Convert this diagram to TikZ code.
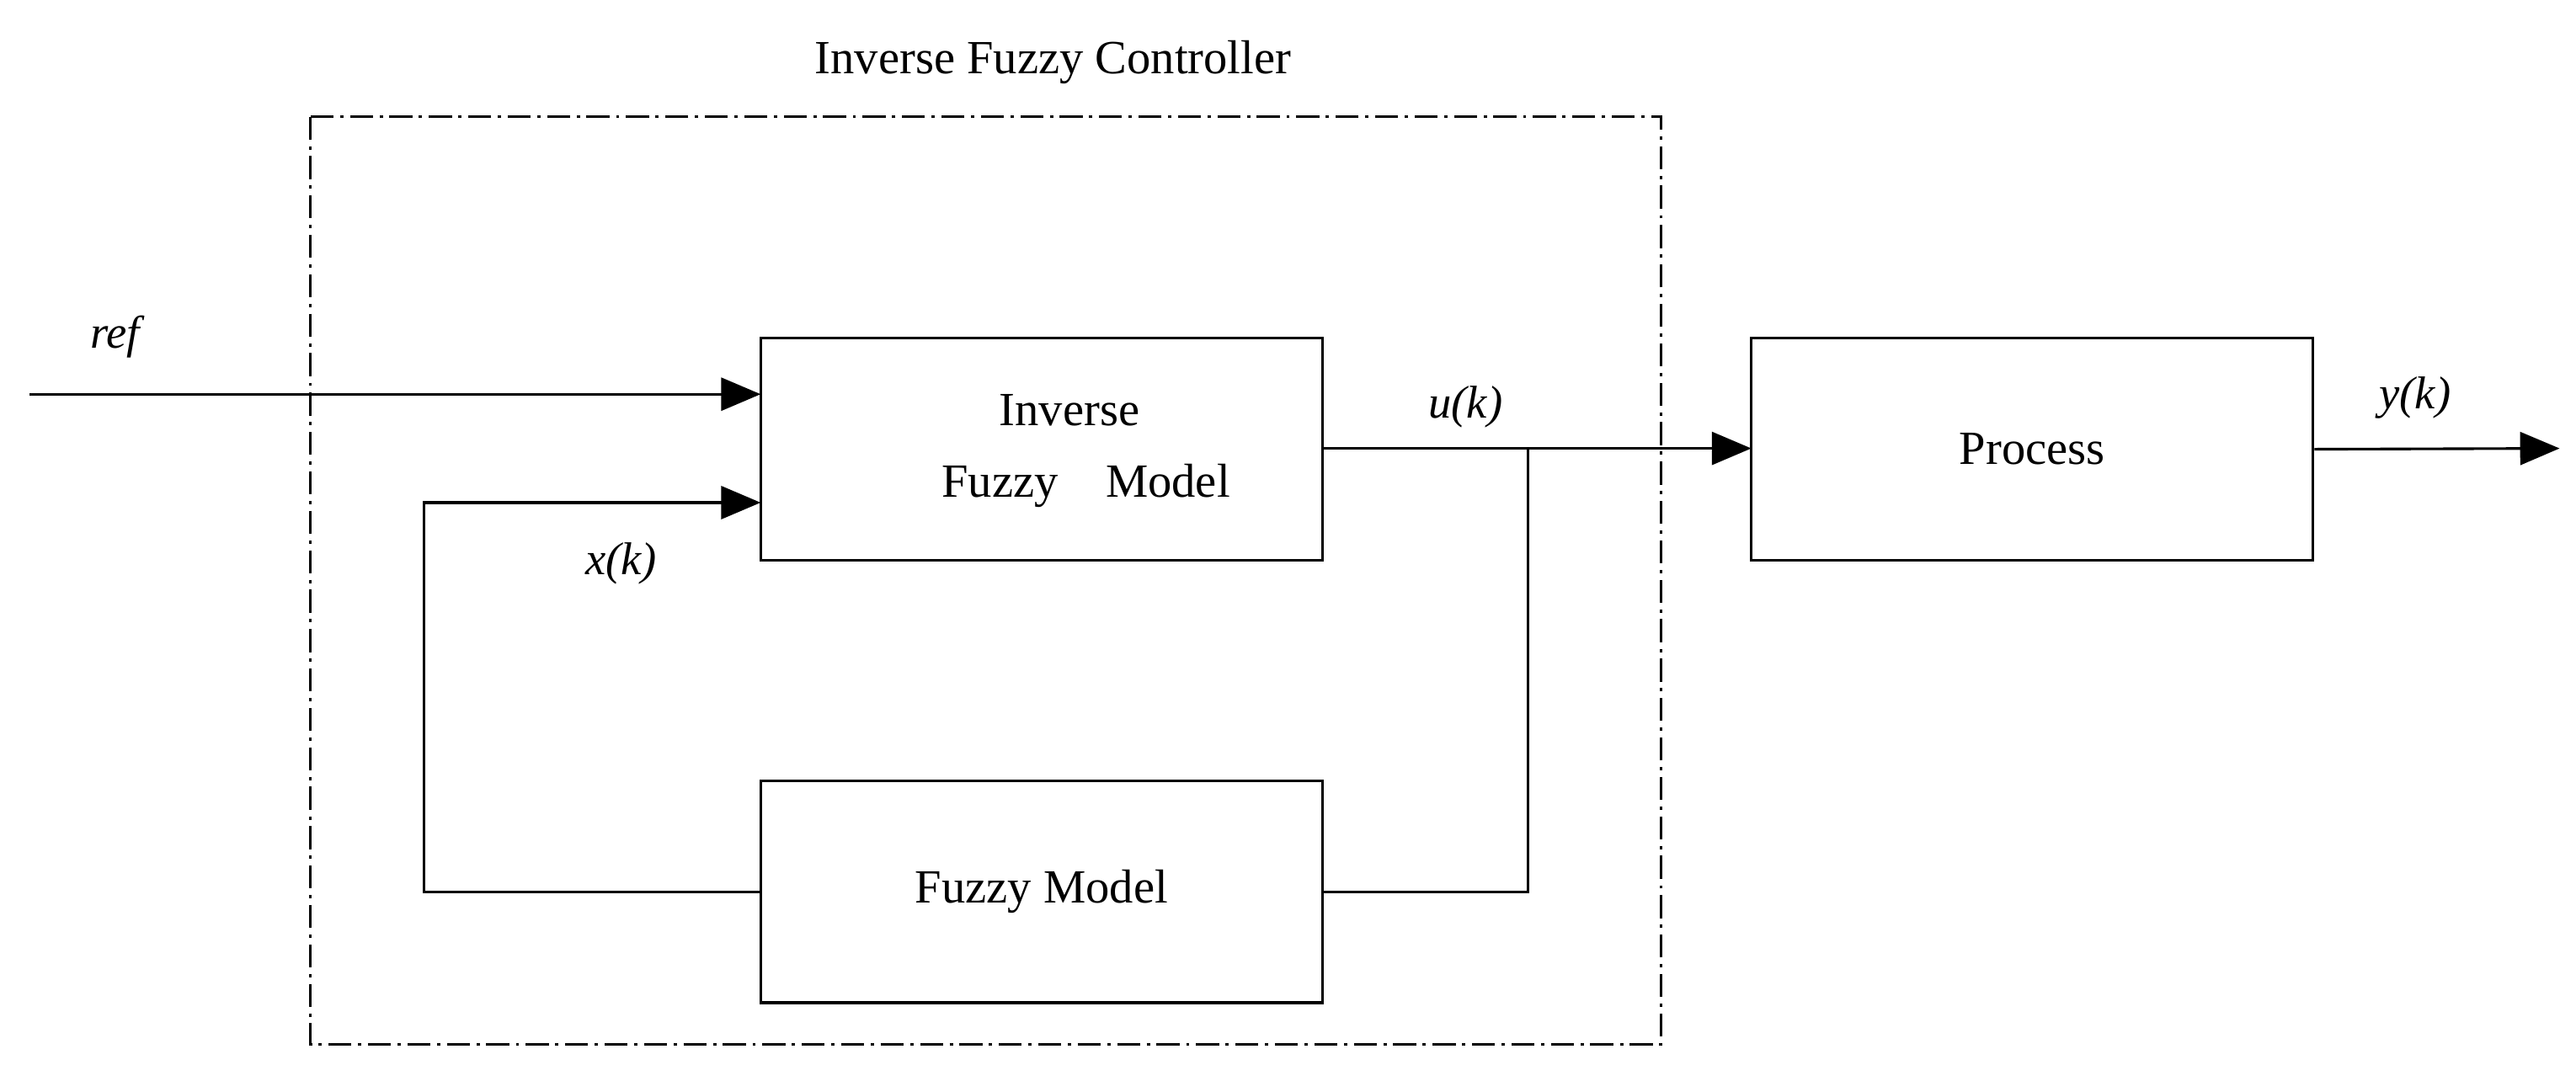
\documentclass[tikz,border=0pt]{standalone}
\usepackage{fontspec}
\setmainfont{Liberation Serif}
\usetikzlibrary{arrows.meta}
\begin{document}
\begin{tikzpicture}[x=0.5pt,y=-0.5pt,
  blk/.style={draw,line width=0.8pt,minimum width=171pt,minimum height=67.5pt,inner sep=0pt},
  arr/.style={line width=0.8pt,-{Triangle[length=12pt,width=10pt]}},
  ln/.style={line width=0.8pt},
  lbl/.style={font=\fontsize{14}{16}\selectfont\itshape},
  txt/.style={font=\fontsize{14.5}{17}\selectfont}]
\useasboundingbox (0,0) rectangle (1568,658);
\draw[line width=0.7pt,dash pattern=on 7pt off 2pt on 1pt off 2pt] (189,71) rectangle (1011,636);
\node[txt] (title) at (641,38) {Inverse Fuzzy Controller};
\node[blk] (ifm) at (634,273.5) {};
\node[txt] (t1) at (651,250) {Inverse};
\node[txt] (t2) at (661,296) {Fuzzy\hspace{1em}Model};
\node[blk,txt] (fm) at (634,543) {Fuzzy Model};
\node[blk,txt] (pr) at (1237,273.5) {Process};
\coordinate (refs) at (18,240);
\coordinate (refe) at (463,240);
\draw[arr] (refs) -- (refe);
\node[lbl] (ref) at (70,205) {ref};
\coordinate (xe) at (463,306);
\draw[arr] (fm.west) -- (258,543) -- (258,306) -- (xe);
\node[lbl] (xk) at (378,343) {x(k)};
\coordinate (ue) at (805,273);
\draw[arr] (ue) -- (1066,273);
\draw[ln] (930,273) -- (930,543) -- (fm.east);
\node[lbl] (uk) at (892,248) {u(k)};
\coordinate (ye) at (1558,273);
\draw[arr] (pr.east) -- (ye);
\node[lbl] (yk) at (1470,242) {y(k)};
\end{tikzpicture}
\end{document}
